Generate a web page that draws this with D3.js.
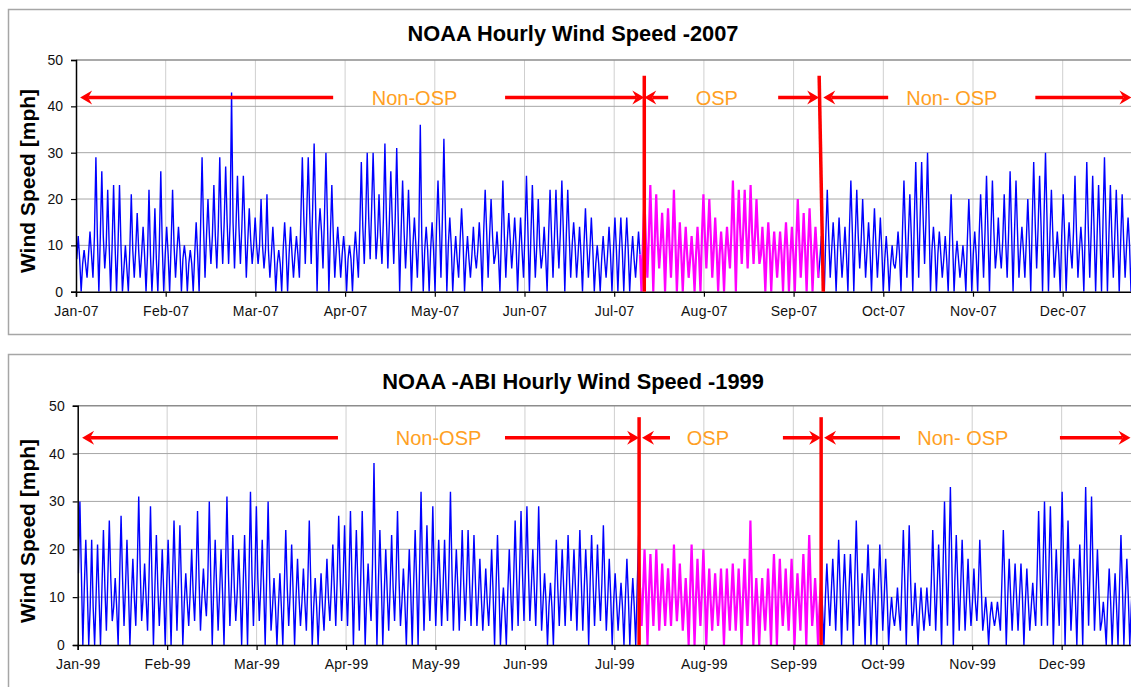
<!DOCTYPE html>
<html>
<head>
<meta charset="utf-8">
<script src="https://cdn.jsdelivr.net/npm/d3@7"></script>
<style>
  body { margin: 0; background: #fff; }
  text { font-family: Arial, "Liberation Sans", sans-serif; }
</style>
</head>
<body>
<script>
// étiquettes des mois
const mois2007 = ["Jan-07","Feb-07","Mar-07","Apr-07","May-07","Jun-07","Jul-07","Aug-07","Sep-07","Oct-07","Nov-07","Dec-07"];
const mois1999 = ["Jan-99","Feb-99","Mar-99","Apr-99","May-99","Jun-99","Jul-99","Aug-99","Sep-99","Oct-99","Nov-99","Dec-99"];
const jours = 365;

// vitesse max / niveau courant / min par tranche de 2 jours (mph)
const haut2007 = [
  12, 9, 13, 29, 26, 22, 23, 23, 10, 21,
  17, 14, 22, 18, 26, 14, 22, 14, 10, 9,
  15, 29, 20, 23, 29, 27, 43, 25, 25, 18,
  16, 20, 21, 14, 9, 15, 14, 12, 29, 29,
  32, 18, 30, 23, 14, 12, 10, 13, 28, 30,
  30, 21, 32, 26, 31, 24, 22, 16, 36, 14,
  15, 24, 33, 16, 12, 18, 12, 14, 15, 22,
  20, 13, 24, 17, 16, 16, 25, 23, 20, 14,
  22, 22, 24, 22, 15, 14, 18, 16, 10, 12,
  14, 16, 16, 16, 12, 13, 20, 23, 21, 17,
  18, 22, 15, 14, 12, 14, 21, 20, 16, 13,
  14, 24, 22, 22, 23, 20, 14, 15, 13, 13,
  15, 14, 20, 17, 18, 14, 12, 22, 15, 16,
  14, 24, 22, 20, 15, 18, 16, 12, 10, 13,
  24, 21, 28, 28, 30, 14, 13, 12, 21, 11,
  10, 20, 13, 21, 25, 24, 16, 21, 26, 24,
  14, 20, 28, 25, 30, 22, 13, 21, 15, 25,
  14, 28, 25, 23, 29, 23, 22, 21, 16, 14,
  12, 10, 9
];
const milieu2007 = [
  7, 6, 8, 12, 12, 10, 10, 10, 5, 9, 9, 8, 8, 7, 10, 8,
  10, 9, 7, 6, 8, 14, 12, 12, 14, 15, 15, 14, 14, 11, 10,
  10, 9, 8, 6, 9, 8, 8, 16, 17, 18, 13, 16, 12, 9, 8,
  7, 8, 14, 16, 18, 12, 16, 15, 16, 13, 12, 10, 12, 9, 9,
  14, 16, 10, 7, 11, 7, 8, 9, 13, 12, 8, 12, 11, 10, 9,
  13, 12, 10, 8, 12, 12, 13, 12, 10, 8, 10, 9, 6, 7, 8,
  9, 9, 9, 7, 8, 11, 12, 11, 10, 10, 11, 8, 8, 7, 8,
  12, 12, 9, 8, 9, 13, 13, 13, 13, 12, 8, 9, 8, 8, 9,
  8, 11, 9, 10, 8, 7, 12, 9, 9, 8, 13, 12, 11, 9, 10,
  9, 7, 6, 8, 13, 12, 15, 16, 16, 9, 8, 7, 11, 7, 6,
  11, 8, 12, 13, 13, 9, 11, 13, 13, 9, 11, 15, 14, 16, 12,
  8, 12, 9, 13, 9, 14, 13, 12, 15, 12, 12, 11, 10, 9, 8, 7, 6
];
const bas2007 = [
  0, 3, 3, 0, 5, 0, 0, 0, 0, 3,
  3, 0, 0, 0, 0, 0, 3, 0, 0, 0,
  0, 3, 6, 5, 6, 6, 5, 6, 3, 6,
  6, 5, 3, 0, 0, 0, 3, 3, 6, 6,
  0, 5, 0, 3, 3, 0, 0, 3, 6, 7,
  7, 6, 5, 6, 0, 5, 0, 3, 0, 0,
  0, 3, 0, 0, 3, 0, 3, 5, 0, 3,
  6, 0, 3, 5, 0, 3, 0, 3, 5, 0,
  3, 5, 0, 3, 3, 0, 3, 0, 0, 3,
  0, 0, 0, 0, 3, 0, 3, 0, 5, 0,
  3, 0, 0, 3, 0, 0, 5, 3, 0, 0,
  5, 0, 6, 5, 6, 6, 0, 0, 3, 0,
  0, 0, 3, 0, 0, 3, 0, 3, 0, 3,
  0, 0, 5, 3, 0, 3, 0, 0, 5, 0,
  3, 0, 3, 6, 0, 0, 3, 0, 0, 3,
  0, 0, 0, 3, 0, 5, 5, 3, 0, 3,
  3, 0, 5, 0, 0, 3, 0, 0, 5, 3,
  0, 3, 0, 0, 0, 3, 0, 3, 0, 0,
  3, 0, 0
];
const haut1999 = [
  30, 22, 22, 21, 24, 26, 14, 27, 22, 18,
  31, 17, 29, 23, 20, 22, 26, 25, 15, 20,
  28, 16, 30, 22, 20, 31, 23, 20, 23, 32,
  29, 22, 30, 14, 15, 24, 21, 18, 16, 26,
  14, 15, 18, 21, 27, 25, 28, 24, 28, 17,
  38, 24, 20, 23, 28, 16, 20, 24, 32, 25,
  29, 22, 22, 32, 20, 24, 24, 23, 18, 16,
  20, 23, 12, 20, 26, 28, 29, 20, 29, 15,
  13, 22, 20, 23, 20, 24, 20, 23, 21, 25,
  18, 15, 13, 18, 14, 23, 20, 19, 20, 17,
  16, 21, 17, 14, 21, 18, 20, 16, 15, 16,
  16, 17, 16, 18, 26, 14, 14, 16, 19, 18,
  16, 18, 15, 19, 23, 14, 13, 17, 18, 22,
  19, 19, 26, 15, 21, 16, 21, 18, 10, 12,
  24, 25, 13, 12, 12, 24, 21, 30, 33, 23,
  22, 18, 16, 22, 10, 9, 9, 24, 18, 17,
  17, 16, 13, 28, 30, 29, 20, 32, 26, 18,
  21, 33, 31, 20, 9, 16, 15, 23, 18, 14,
  12, 10, 9
];
const milieu1999 = [
  15, 12, 8, 10, 12, 14, 8, 14, 12, 10, 16, 10, 14, 12, 11, 12,
  14, 13, 9, 11, 14, 10, 14, 12, 11, 15, 12, 11, 12, 15, 14,
  12, 14, 8, 8, 12, 11, 10, 9, 13, 8, 8, 10, 12, 14, 13,
  14, 13, 14, 10, 17, 13, 11, 12, 14, 9, 11, 13, 16, 13, 14,
  13, 12, 16, 12, 13, 13, 13, 10, 9, 11, 12, 7, 11, 14, 15,
  16, 12, 15, 9, 8, 12, 12, 13, 12, 13, 12, 13, 12, 13, 10,
  9, 8, 10, 8, 12, 11, 11, 11, 10, 10, 11, 10, 8, 11, 10,
  11, 9, 9, 9, 9, 10, 9, 10, 12, 8, 8, 9, 11, 10, 9,
  10, 9, 11, 12, 8, 8, 10, 11, 12, 11, 11, 14, 9, 12, 9,
  12, 10, 6, 7, 13, 13, 7, 7, 7, 13, 12, 16, 17, 13, 12,
  10, 9, 12, 6, 6, 6, 13, 10, 10, 10, 9, 8, 15, 16, 16,
  11, 17, 14, 10, 12, 17, 16, 11, 5, 9, 8, 12, 10, 8, 7, 6, 5
];
const bas1999 = [
  0, 0, 0, 0, 3, 5, 0, 4, 0, 4,
  5, 3, 0, 4, 0, 0, 3, 0, 4, 5,
  3, 6, 0, 3, 0, 4, 5, 0, 0, 4,
  5, 0, 3, 0, 0, 4, 0, 4, 3, 0,
  0, 3, 5, 4, 5, 4, 0, 3, 0, 5,
  0, 0, 3, 5, 4, 0, 0, 0, 3, 5,
  4, 4, 5, 3, 3, 5, 4, 4, 3, 4,
  0, 0, 0, 3, 4, 5, 5, 4, 3, 0,
  0, 4, 4, 5, 3, 3, 0, 4, 5, 3,
  0, 3, 0, 0, 0, 4, 0, 4, 3, 4,
  4, 5, 3, 0, 0, 4, 0, 3, 4, 0,
  3, 3, 0, 4, 0, 0, 3, 0, 0, 4,
  3, 0, 3, 0, 4, 0, 0, 4, 3, 0,
  3, 0, 4, 0, 0, 0, 3, 0, 4, 3,
  0, 4, 0, 3, 4, 3, 0, 4, 0, 3,
  3, 4, 5, 3, 0, 4, 3, 0, 3, 3,
  0, 3, 4, 4, 4, 0, 4, 0, 3, 0,
  0, 4, 3, 3, 0, 0, 0, 0, 0, 0,
  0, 0, 0
];

// période OSP (jour de l'année)
const osp2007 = [191, 252];
const osp1999 = [191, 253];

const ticksY = [0, 10, 20, 30, 40, 50];

let canevas = d3.select("body")
    .append("svg")
    .attr("width", 1131)
    .attr("height", 687);

const panneaux = [
  { id: "p2007", titre: "NOAA Hourly Wind Speed -2007", mois: mois2007,
    haut: haut2007, milieu: milieu2007, bas: bas2007, osp: osp2007,
    cadreY: 9.5, cadreH: 325, titreY: 41, gauche: 76, largeurMois: 89.7, top: 60, bottom: 291.7, labelY: 181,
    flecheV: 41.9, barreV: 46.6,
    fleches: [[87.2, 1.4], [145.5, 192.7], [200.8, 192.7], [238.1, 252], [275.4, 253.4], [325.3, 357.9]],
    textes: [[114.8, "Non-OSP"], [217.3, "OSP"], [297, "Non- OSP"]],
    barres: [[192.7, 192.7], [252, 253.4]] },
  { id: "p1999", titre: "NOAA -ABI Hourly Wind Speed -1999", mois: mois1999,
    haut: haut1999, milieu: milieu1999, bas: bas1999, osp: osp1999,
    cadreY: 354.5, cadreH: 400, titreY: 389, gauche: 77.7, largeurMois: 89.45, top: 405.7, bottom: 645, labelY: 531,
    flecheV: 43.3, barreV: 47.6,
    fleches: [[88.5, 1.5], [145.3, 190.9], [201.4, 191.9], [239.8, 252.8], [279.6, 253.8], [334, 358]],
    textes: [[122.7, "Non-OSP"], [214.3, "OSP"], [301, "Non- OSP"]],
    barres: [[190.9, 190.9], [252.8, 252.8]] }
];

panneaux.forEach(p => dessiner(p));

function dessiner(p) {
    // cadre du graphique
    canevas.append("rect")
        .attr("x", 8.5).attr("y", p.cadreY)
        .attr("width", 1200).attr("height", p.cadreH)
        .attr("fill", "none")
        .attr("stroke", "#a6a6a6")
        .attr("stroke-width", 1.5);

    canevas.append("text")
        .attr("x", 573).attr("y", p.titreY)
        .attr("text-anchor", "middle")
        .style("font-size", "21.8px")
        .style("font-weight", "bold")
        .text(p.titre);

    // échelles
    const x = d3.scaleLinear()
        .domain([0, jours])
        .range([p.gauche, p.gauche + 12 * p.largeurMois]);
    const y = d3.scaleLinear()
        .domain([0, 50])
        .range([p.bottom, p.top]);
    const ticksX = d3.range(12).map(i => i * jours / 12);

    // grille
    canevas.append("g").selectAll("line")
        .data(ticksX.slice(1))
        .enter().append("line")
        .attr("x1", d => x(d)).attr("x2", d => x(d))
        .attr("y1", p.top).attr("y2", p.bottom)
        .attr("stroke", "#cfcfcf").attr("stroke-width", 1);
    canevas.append("g").selectAll("line")
        .data(ticksY.slice(1))
        .enter().append("line")
        .attr("x1", p.gauche).attr("x2", 1131)
        .attr("y1", d => y(d)).attr("y2", d => y(d))
        .attr("stroke", d => d == 50 ? "#8c8c8c" : "#a6a6a6")
        .attr("stroke-width", d => d == 50 ? 1.5 : 1);

    // série horaire : niveau courant, max, niveau courant, min sur chaque tranche
    const points = [];
    p.haut.forEach((v, k) => {
        points.push({ j: 2 * k + 0.25, v: p.milieu[k] });
        points.push({ j: 2 * k + 0.75, v: v });
        points.push({ j: 2 * k + 1.25, v: p.milieu[k] });
        points.push({ j: 2 * k + 1.75, v: p.bas[k] });
    });
    const i0 = points.findIndex(d => d.j >= p.osp[0]);
    const i1 = points.findIndex(d => d.j > p.osp[1]);
    const ligne = d3.line().x(d => x(d.j)).y(d => y(d.v));

    canevas.append("clipPath").attr("id", "clip" + p.id)
        .append("rect")
        .attr("x", p.gauche).attr("y", p.top)
        .attr("width", 1131 - p.gauche).attr("height", p.bottom - p.top);

    const serie = canevas.append("g").attr("clip-path", "url(#clip" + p.id + ")");
    serie.append("path")
        .attr("d", ligne(points.slice(0, i0 + 1)))
        .attr("fill", "none").attr("stroke", "#0000ff").attr("stroke-width", 1.4);
    serie.append("path")
        .attr("d", ligne(points.slice(i1 - 1)))
        .attr("fill", "none").attr("stroke", "#0000ff").attr("stroke-width", 1.4);
    serie.append("path")
        .attr("d", ligne(points.slice(i0, i1)))
        .attr("fill", "none").attr("stroke", "#ff00ff").attr("stroke-width", 2.2);

    // axes
    const axeY = canevas.append("g")
        .attr("transform", "translate(" + p.gauche + ",0)")
        .call(d3.axisLeft(y).tickValues(ticksY).tickSize(5).tickPadding(8));
    const axeX = canevas.append("g")
        .attr("transform", "translate(0," + p.bottom + ")")
        .call(d3.axisBottom(x).tickValues(ticksX).tickSize(5).tickPadding(9)
            .tickFormat((d, i) => p.mois[i]));
    [axeY, axeX].forEach(a => {
        a.select(".domain").attr("stroke", "#000").attr("stroke-width", 1.5);
        a.selectAll(".tick line").attr("stroke", "#000").attr("stroke-width", 1.2);
        a.selectAll("text")
            .style("font-size", "14px")
            .style("font-family", "Arial, 'Liberation Sans', sans-serif")
            .attr("fill", "#111");
    });
    axeX.selectAll("text").style("letter-spacing", "0.3px");

    canevas.append("text")
        .attr("transform", "translate(27.5," + p.labelY + ") rotate(-90)")
        .attr("text-anchor", "middle")
        .attr("dominant-baseline", "central")
        .style("font-size", "21px")
        .style("font-weight", "bold")
        .text("Wind Speed [mph]");

    // séparations OSP
    canevas.append("g").selectAll("line")
        .data(p.barres)
        .enter().append("line")
        .attr("x1", d => x(d[0])).attr("x2", d => x(d[1]))
        .attr("y1", y(p.barreV)).attr("y2", y(0))
        .attr("stroke", "#ff0000").attr("stroke-width", 3.5);

    // flèches
    const yf = y(p.flecheV);
    p.fleches.forEach(f => {
        const x1 = x(f[0]), x2 = x(f[1]);
        const s = x2 > x1 ? 1 : -1;
        canevas.append("line")
            .attr("x1", x1).attr("x2", x2 - s * 8)
            .attr("y1", yf).attr("y2", yf)
            .attr("stroke", "#ff0000").attr("stroke-width", 3.5);
        canevas.append("path")
            .attr("d", "M" + x2 + "," + yf + " L" + (x2 - s * 12) + "," + (yf - 7) +
                " L" + (x2 - s * 8) + "," + yf + " L" + (x2 - s * 12) + "," + (yf + 7) + " Z")
            .attr("fill", "#ff0000");
    });

    canevas.append("g").selectAll("text")
        .data(p.textes)
        .enter().append("text")
        .attr("x", d => x(d[0]))
        .attr("y", yf)
        .attr("text-anchor", "middle")
        .attr("dominant-baseline", "central")
        .style("font-size", "20px")
        .style("fill", "#ffa023")
        .text(d => d[1]);
}
</script>
</body>
</html>
